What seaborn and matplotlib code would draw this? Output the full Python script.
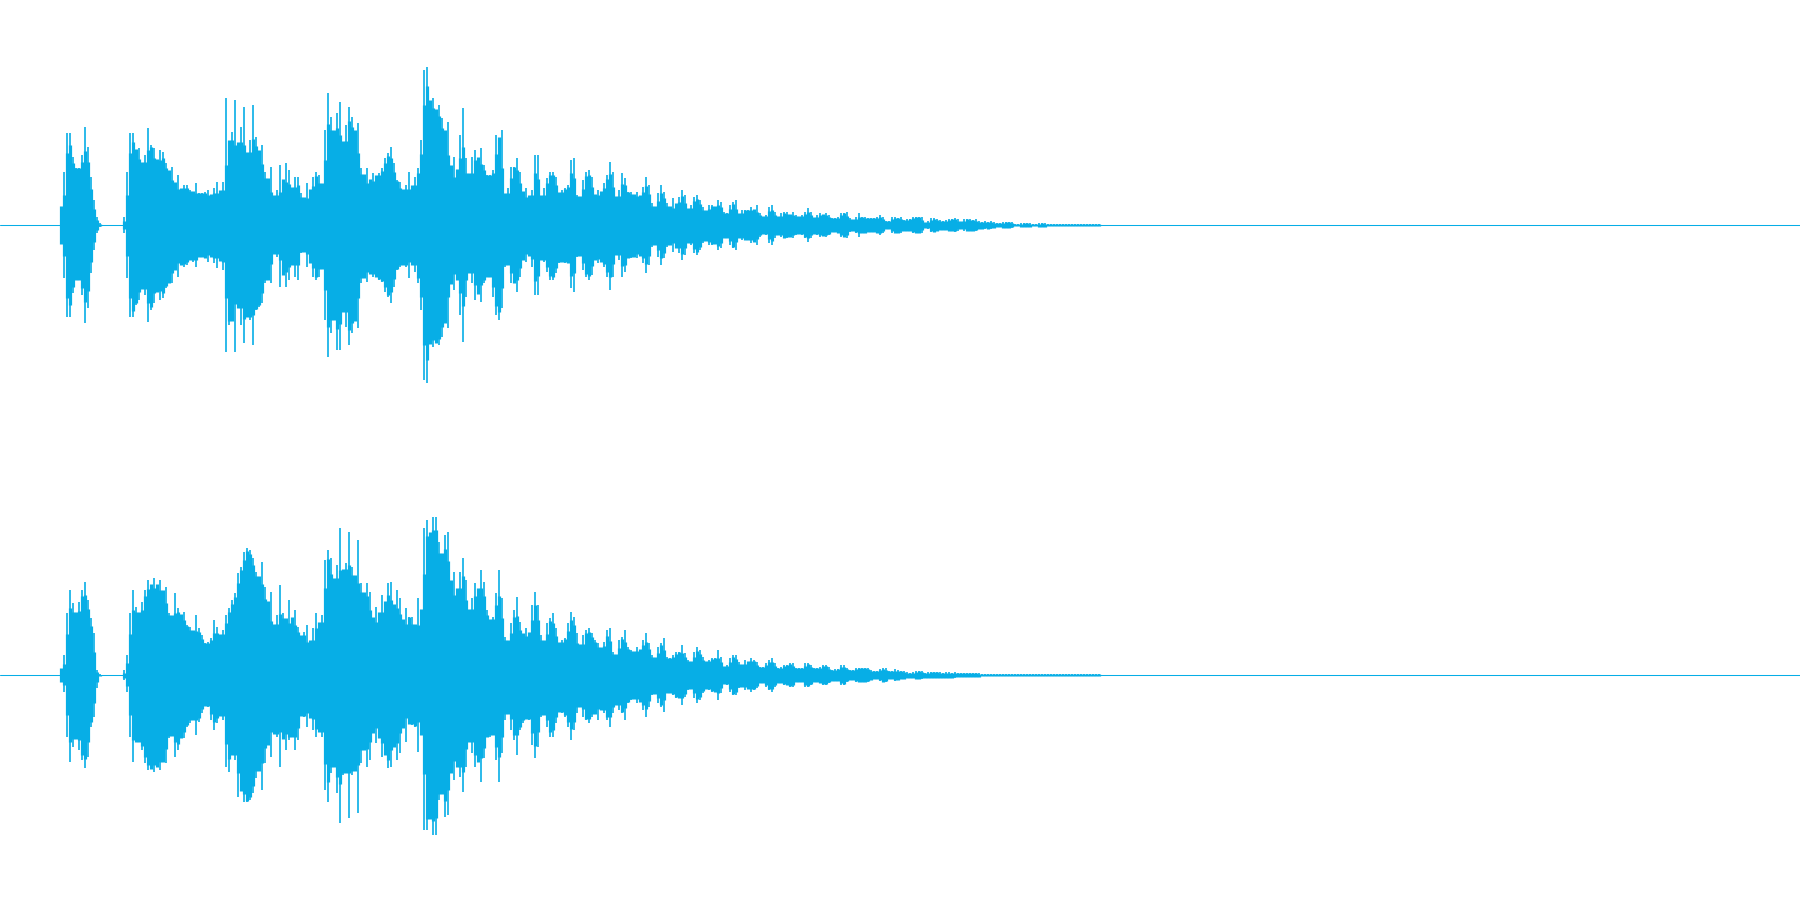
import numpy as np
import pandas as pd
import matplotlib
matplotlib.use("Agg")
import matplotlib.pyplot as plt
import seaborn as sns

# Peak heights, one value per 3 px column, in px from the centre line
ch1_up = [8,53,92,92,68,57,57,70,98,78,48,25,8,2,0,0,0,0,0,0,0,8,53,92,92,75,77,57,70,97,80,77,58,75,73,62,53,58,37,50,35,40,40,35,33,42,32,32,33,35,28,37,43,28,43,127,78,93,125,68,98,118,62,85,120,88,70,80,53,42,58,25,35,60,32,62,55,28,48,48,32,25,42,30,48,53,50,35,95,132,108,82,112,
          123,68,100,118,108,88,102,57,45,57,40,52,48,52,57,67,72,78,62,45,43,32,40,53,32,48,57,85,155,158,123,127,112,120,107,88,103,52,68,45,90,117,67,37,68,75,62,77,60,50,50,55,90,87,95,28,37,58,58,67,53,32,37,25,35,70,70,23,37,47,53,53,48,32,35,37,40,65,67,30,28,45,53,55,48,28,35,33,42,50,63,53,23,35]
ch1_down = [8,53,92,92,68,55,55,70,98,83,48,25,8,2,0,0,0,0,0,0,0,8,53,92,92,80,75,58,70,97,85,78,58,75,73,63,58,58,38,52,38,42,40,33,37,42,32,32,33,37,27,38,43,28,45,127,100,92,127,65,100,118,88,95,120,85,82,78,58,52,58,25,32,62,38,62,55,28,52,55,28,25,42,33,52,55,52,35,95,132,108,82,125,
            125,72,102,120,108,88,103,58,48,57,45,52,52,55,57,67,72,78,62,45,42,37,42,53,32,47,58,85,155,158,115,122,115,120,112,92,103,52,65,45,90,117,72,38,58,75,62,77,58,52,52,72,90,95,83,42,38,58,58,67,52,33,37,25,42,70,70,32,37,47,55,55,48,38,35,38,38,63,67,32,30,45,52,55,50,32,38,35,42,52,65,52,25,35]
ch2_up = [3,20,62,85,72,55,73,85,93,75,57,42,5,1,0,0,0,0,0,0,0,5,20,62,85,68,58,73,85,95,88,97,87,95,83,88,62,58,82,67,60,63,50,48,42,60,47,40,32,33,37,55,48,37,45,60,67,75,82,102,108,123,127,125,117,103,95,113,88,65,83,43,60,90,62,52,75,52,65,48,38,43,50,23,47,62,47,60,115,125,117,85,110,
          147,100,112,143,108,92,135,92,75,92,83,48,68,58,80,68,92,93,58,85,77,45,67,58,58,45,77,55,147,155,132,158,158,133,112,140,143,88,103,72,103,117,95,55,77,92,82,105,93,65,55,58,82,105,77,38,32,52,65,78,53,38,47,40,70,83,70,40,30,52,57,62,47,32,35,37,52,63,58,42,22,40,45,47,42,35,32,25,33,45,47,23,20,35]
ch2_down = [3,17,62,87,72,55,75,85,93,82,52,42,13,1,0,0,0,0,0,0,0,5,17,62,87,67,67,75,88,95,92,97,88,95,85,88,63,58,82,75,62,63,52,48,42,60,47,38,30,32,45,55,48,37,45,92,97,75,85,122,110,127,127,125,118,103,88,115,88,58,82,55,62,92,52,75,65,58,75,65,40,42,52,33,55,62,52,62,115,127,98,85,118,
            148,100,95,143,100,92,138,88,62,92,85,48,68,58,82,78,93,92,58,85,78,38,67,48,50,52,77,42,155,155,132,160,160,125,112,142,140,90,105,82,102,117,92,55,78,92,82,107,83,62,62,58,85,107,78,45,33,55,65,80,55,48,42,45,70,83,72,42,38,52,62,62,48,35,38,42,52,65,55,38,25,42,45,48,42,35,45,32,38,45,52,38,25,35]

# The tail is close to symmetric, so one list per channel
ch1_tail = [52,47,33,33,30,33,28,38,48,40,22,17,32,40,33,22,17,27,18,28,35,30,15,20,28,30,25,18,13,20,20,18,25,23,13,12,20,23,25,10,15,15,15,18,15,20,12,8,10,18,20,13,7,12,13,13,10,13,10,8,10,13,17,13,7,10,12,10,12,10,7,7,8,12,12,13,7,5,8,12,8,8,7,7,7,8,10,8,4,4,8,8,7,8,5,6,6,8,8,8,8,2,4,7,7,6,5,4,5,6,6,7,6,2,6,6,6,5,6,4,3,4,3,4,3,2,2,3,3,3,3,1,1,2,2,2,2,1,1,2,2,2,1,1,1,1,1,1,1,1,1,1,1,1,1,1,1,1,1,1]
ch2_tail = [38,45,28,25,23,28,25,35,42,32,20,17,28,32,37,18,17,20,23,23,30,22,15,13,23,28,25,18,13,15,17,17,25,18,8,10,17,20,20,13,10,15,13,17,15,13,8,8,12,15,17,12,7,8,10,10,12,12,7,7,7,12,12,10,7,7,8,10,10,8,5,6,6,10,10,7,5,5,7,7,7,7,7,5,4,4,6,7,7,4,4,6,5,4,4,3,2,3,4,4,4,2,3,3,3,3,3,2,3,3,2,3,2,2,2,2,2,2,2,2,1,1,1,1,1,1,1,1,1,1,1,1,1,1,1,1,1,1,1,1,1,1,1,1,1,1,1,1,1,1,1,1,1,1,1,1,1,1,1,1]

start_px = 61
step_px = 3
line_color = "#07AEE6"


def make_columns(up, down):
    rows = []
    for i, (u, d) in enumerate(zip(up, down)):
        rows.append({"col": i, "pos": start_px + i * step_px, "amp": u})
        rows.append({"col": i, "pos": start_px + i * step_px, "amp": -d})
    return pd.DataFrame(rows)


def core_of(s):
    # solid part under the peaks: halfway between the low and the middle of each 3 column window
    roll = s.rolling(3, center=True, min_periods=1)
    return (roll.min() + roll.median()) / 2


def draw_channel(ax, up, down):
    up = pd.Series(up, dtype=float)
    down = pd.Series(down, dtype=float)
    sns.lineplot(data=make_columns(core_of(up), core_of(down)), x="pos", y="amp", units="col", estimator=None,
                 sort=False, color=line_color, lw=2.3, solid_capstyle="butt", ax=ax, legend=False)
    sns.lineplot(data=make_columns(up, down), x="pos", y="amp", units="col", estimator=None,
                 sort=False, color=line_color, lw=1.2, solid_capstyle="butt", ax=ax, legend=False)
    ax.axhline(0, color=line_color, lw=0.75)
    ax.set_xlim(0, 1800)
    ax.set_ylim(-225, 225)
    ax.axis("off")


sns.set_theme(style="white")
fig = plt.figure(figsize=(18, 9), dpi=100, facecolor="white")
ax1 = fig.add_axes([0, 0.5, 1, 0.5])
ax2 = fig.add_axes([0, 0, 1, 0.5])

draw_channel(ax1, ch1_up + ch1_tail, ch1_down + ch1_tail)
draw_channel(ax2, ch2_up + ch2_tail, ch2_down + ch2_tail)

fig.savefig("out.png", dpi=100)
